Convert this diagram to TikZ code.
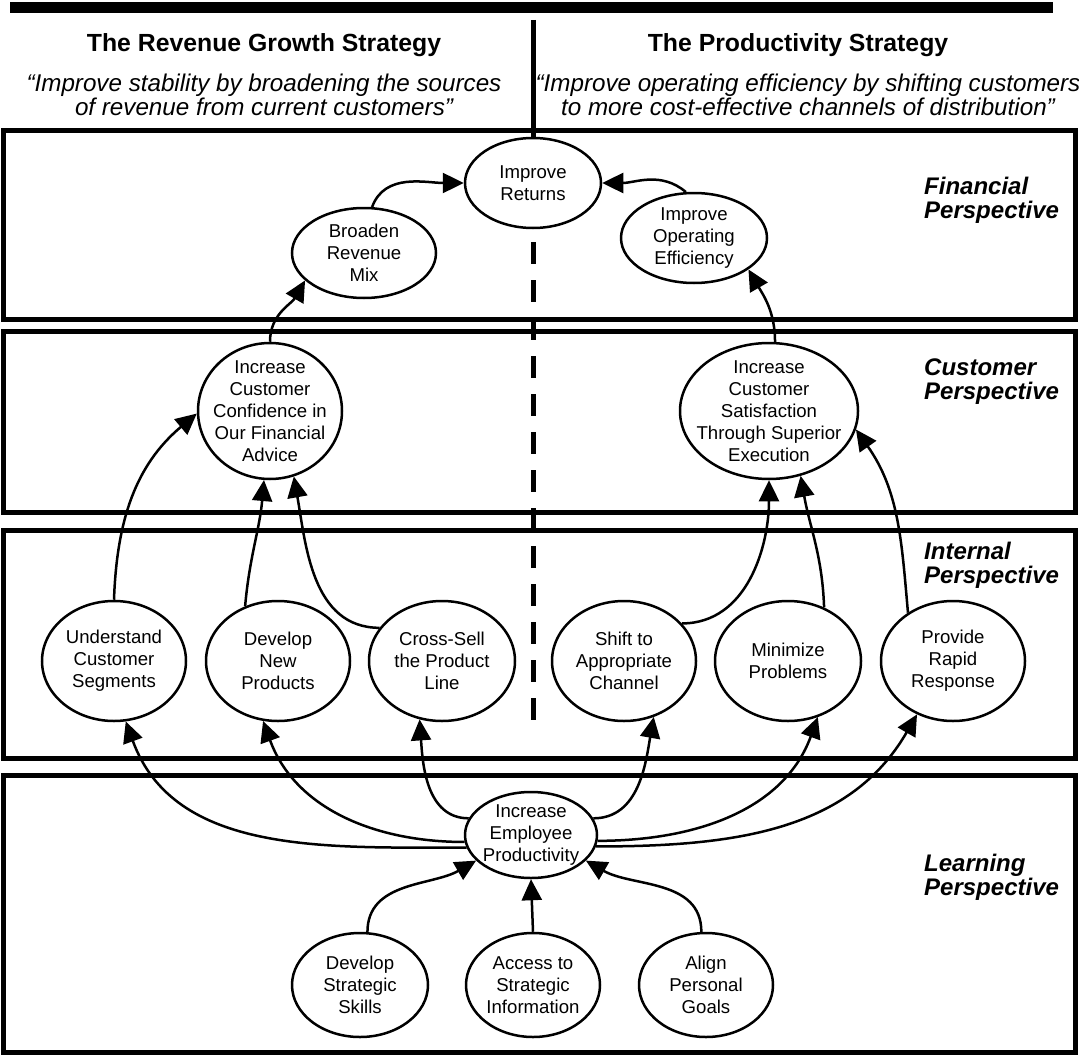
\documentclass[tikz,border=0pt]{standalone}
\usepackage{fontspec}
\setmainfont{Liberation Sans}
\usetikzlibrary{shapes.geometric, arrows.meta}

\begin{document}
\begin{tikzpicture}[x=1pt, y=-1pt, >={Triangle[length=21pt, width=20pt]},
  goal/.style={ellipse, draw, line width=2.5pt, inner sep=0pt},
  goaltext/.style={align=center, inner sep=0pt, font=\fontsize{18.6}{22}\selectfont},
  link/.style={->, line width=2.5pt},
  frame/.style={line width=5pt},
  head/.style={font=\fontsize{24.8}{28}\selectfont\bfseries},
  quote/.style={align=center, font=\fontsize{24.2}{24}\selectfont\itshape},
  persp/.style={anchor=west, align=left, inner sep=0pt, font=\fontsize{24}{24}\selectfont\bfseries\itshape}]
  \useasboundingbox (0,0) rectangle (1079,1057);

  % Header
  \fill (10,2) rectangle (1053,13);
  \node[head] (revhead) at (264,45) {The Revenue Growth Strategy};
  \node[quote] (revquote) at (264,95) {“Improve stability by broadening the sources\\of revenue from current customers”};
  \node[head] (prohead) at (798,45) {The Productivity Strategy};
  \node[quote, inner xsep=0pt] (proquote) at (808,95) {“Improve operating efficiency by shifting customers\\to more cost-effective channels of distribution”};

  % Perspective frames
  \draw[frame] (3,130) rectangle (1075,319);
  \draw[frame] (3,331) rectangle (1075,512);
  \draw[frame] (3,530) rectangle (1075,758);
  \draw[frame] (3,775) rectangle (1075,1052);
  \node[persp] (finp) at (924,200) {Financial\\Perspective};
  \node[persp] (cusp) at (924,382) {Customer\\Perspective};
  \node[persp] (intp) at (924,565) {Internal\\Perspective};
  \node[persp] (lrnp) at (924,877) {Learning\\Perspective};

  % Divider
  \draw[line width=5pt] (533,20) -- (533,138);
  \draw[line width=5pt, dash pattern=on 22pt off 16pt] (533,242) -- (533,720);

  % Financial
  \node[goal, minimum width=136pt, minimum height=90pt, label={[goaltext]center:Improve\\Returns}] (ret) at (533,183) {};
  \node[goal, minimum width=144pt, minimum height=90pt, label={[goaltext]center:Broaden\\Revenue\\Mix}] (brd) at (364,253) {};
  \node[goal, minimum width=146pt, minimum height=90pt, label={[goaltext]center:Improve\\Operating\\Efficiency}] (eff) at (694,238) {};

  % Customer
  \node[goal, minimum width=144pt, minimum height=136pt, label={[goaltext]center:Increase\\Customer\\Confidence in\\Our Financial\\Advice}] (conf) at (270,411) {};
  \node[goal, minimum width=178pt, minimum height=136pt, label={[goaltext]center:Increase\\Customer\\Satisfaction\\Through Superior\\Execution}] (sat) at (769,411) {};

  % Internal
  \node[goal, minimum width=144pt, minimum height=120pt, label={[goaltext]center:Understand\\Customer\\Segments}] (und) at (114,661) {};
  \node[goal, minimum width=144pt, minimum height=120pt, label={[goaltext]center:Develop\\New\\Products}] (dev) at (278,661) {};
  \node[goal, minimum width=146pt, minimum height=120pt, label={[goaltext]center:Cross-Sell\\the Product\\Line}] (xsell) at (442,661) {};
  \node[goal, minimum width=144pt, minimum height=120pt, label={[goaltext]center:Shift to\\Appropriate\\Channel}] (shift) at (624,661) {};
  \node[goal, minimum width=146pt, minimum height=120pt, label={[goaltext]center:Minimize\\Problems}] (minp) at (788,661) {};
  \node[goal, minimum width=144pt, minimum height=120pt, label={[goaltext]center:Provide\\Rapid\\Response}] (rapid) at (953,661) {};

  % Learning
  \node[goal, minimum width=132pt, minimum height=86pt, label={[goaltext]center:Increase\\Employee\\Productivity}] (emp) at (531,835) {};
  \node[goal, minimum width=136pt, minimum height=104pt, label={[goaltext]center:Develop\\Strategic\\Skills}] (skill) at (360,985) {};
  \node[goal, minimum width=134pt, minimum height=104pt, label={[goaltext]center:Access to\\Strategic\\Information}] (info) at (533,985) {};
  \node[goal, minimum width=134pt, minimum height=104pt, label={[goaltext]center:Align\\Personal\\Goals}] (goals) at (706,985) {};

  % Links
  \draw[link] (brd.80) to[out=70, in=180] (ret.west);
  \draw[link] (eff.100) to[out=140, in=0] (ret.east);
  \draw[link] (conf.north) to[out=90, in=240] (brd.205);
  \draw[link] (sat.85) to[out=90, in=-60] (eff.-30);
  \draw[link] (und.north) to[out=88, in=220] (conf.182);
  \draw[link] (dev.121) to[out=85, in=-95] (conf.265);
  \draw[link] (xsell.152) to[out=180, in=-80] (conf.290);
  \draw[link] (shift.33) to[out=0, in=-90] (sat.south);
  \draw[link] (minp.56) to[out=92, in=-80] (sat.-64);
  \draw[link] (rapid.133) to[out=95, in=-55] (sat.-12);
  \draw[link] (emp.191) to[out=180, in=-70] (und.281);
  \draw[link] (emp.186) to[out=180, in=-70] (dev.256);
  \draw[link] (emp.165) to[out=180, in=-86] (xsell.249);
  \draw[link] (emp.15) to[out=0, in=-100] (shift.298);
  \draw[link] (emp.-5) to[out=0, in=-110] (minp.298);
  \draw[link] (emp.-10) to[out=0, in=-120] (rapid.236);
  \draw[link] (skill.82) to[out=90, in=210] (emp.205);
  \draw[link] (info.north) -- (emp.south);
  \draw[link] (goals.95) to[out=90, in=-30] (emp.-25);
\end{tikzpicture}
\end{document}
